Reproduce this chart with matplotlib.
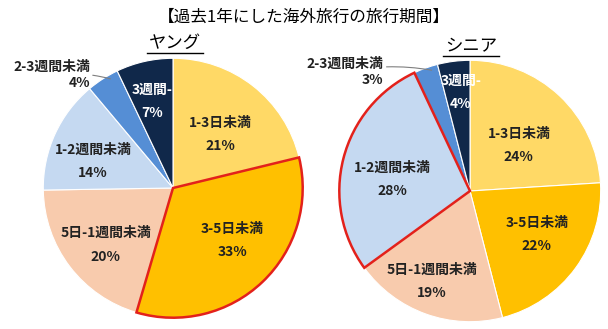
import numpy as np
import matplotlib
matplotlib.use("Agg")
import matplotlib.pyplot as plt
from matplotlib.lines import Line2D

plt.rcParams['font.family'] = ['Noto Sans CJK JP', 'DejaVu Sans']

# データ
categories = ['1-3日未満', '3-5日未満', '5日-1週間未満', '1-2週間未満', '2-3週間未満', '3週間-']
young = [21, 33, 20, 14, 4, 7]
senior = [24, 22, 19, 28, 3, 4]
title = '【過去1年にした海外旅行の旅行期間】'
groups = ['ヤング', 'シニア']

colors = ['#FFD966', '#FFC000', '#F8CBAD', '#C5D9F1', '#558ED5', '#10284A']
text_colors = ['#222222'] * 5 + ['white']

W, H = 608, 329
fig = plt.figure(figsize=(W / 100, H / 100), dpi=100)


def px_axes(cx, cy, r):
    # 画素座標（左上原点）から軸を作る
    return fig.add_axes([(cx - r) / W, (H - cy - r) / H, 2 * r / W, 2 * r / H])


def draw_pie(ax, vals, hi, label_r, label_da, ext_xy):
    wedges, _ = ax.pie(vals, colors=colors, startangle=90, counterclock=False,
                       radius=1, wedgeprops=dict(edgecolor='white', linewidth=0.8))
    ax.set_xlim(-1.01, 1.01)
    ax.set_ylim(-1.01, 1.01)
    ax.set_aspect('auto')
    ax.axis('off')
    w = wedges[hi]
    w.set_edgecolor('#E3211B')
    w.set_linewidth(1.8)
    w.set_zorder(5)
    for i, wd in enumerate(wedges):
        mid = np.deg2rad((wd.theta1 + wd.theta2) / 2 + label_da[i])
        txt = categories[i] + '\n' + str(vals[i]) + '%'
        if i == 4:
            a = np.deg2rad(wd.theta1 + 0.3 * (wd.theta2 - wd.theta1))
            ax.annotate(txt, xy=(np.cos(a) * 0.97, np.sin(a) * 0.97), xytext=ext_xy,
                        ha='right', va='center', fontsize=10, fontweight='bold',
                        color=text_colors[i], linespacing=1.2, multialignment='right',
                        annotation_clip=False,
                        arrowprops=dict(arrowstyle='-', color='#7F7F7F', lw=0.8,
                                        shrinkA=0, shrinkB=0,
                                        connectionstyle='arc3,rad=-0.1'))
            continue
        ax.text(label_r[i] * np.cos(mid), label_r[i] * np.sin(mid), txt,
                ha='center', va='center', fontsize=10, fontweight='bold',
                color=text_colors[i], linespacing=1.85, zorder=6)


ax1 = px_axes(173, 188, 131)
draw_pie(ax1, young, 1, [0.55, 0.61, 0.68, 0.65, 0, 0.69],
         [-3, 5, 3, 6, 0, 1], (-0.64, 0.87))

ax2 = px_axes(470, 191, 132)
draw_pie(ax2, senior, 3, [0.51, 0.61, 0.75, 0.6, 0, 0.76],
         [-4, 3, -3, 6, 0, -2], (-0.66, 0.91))

fig.text(304 / W, 1 - 17 / H, title, ha='center', va='center', fontsize=12)
for x, y, g in [(175, 43, groups[0]), (471, 46, groups[1])]:
    fig.text(x / W, 1 - y / H, g, ha='center', va='center', fontsize=12.5)
    fig.add_artist(Line2D([(x - 28) / W, (x + 28) / W], [1 - (y + 10) / H] * 2,
                          color='black', lw=1))

fig.savefig('out.png', dpi=100, facecolor='white')
